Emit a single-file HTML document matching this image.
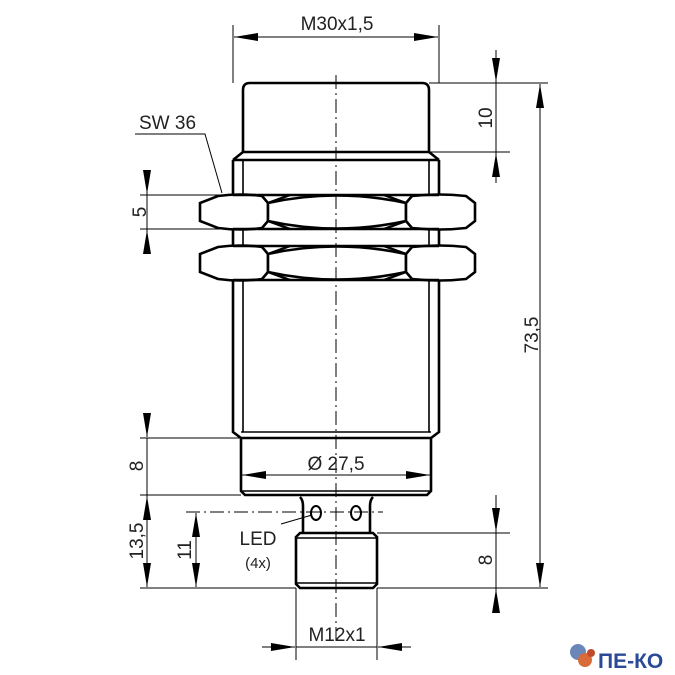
<!DOCTYPE html>
<html><head><meta charset="utf-8"><style>
html,body{margin:0;padding:0;background:#fff}
svg{display:block}
text{font-family:"Liberation Sans",sans-serif;fill:#222}
</style></head><body>
<svg width="675" height="675" viewBox="0 0 675 675" xmlns="http://www.w3.org/2000/svg">
<defs>
<marker id="b" viewBox="0 0 24 10" refX="24" refY="5" markerWidth="24" markerHeight="10" markerUnits="userSpaceOnUse" orient="auto-start-reverse"><path d="M0,1 L24,5 L0,9 Z" fill="#000"/></marker>
<g id="nut">
<path d="M268,203 L262,196 Q240,193 218,196 L200,203 L200,221 L218,228 Q240,231 262,228 L268,221 Z" fill="#fff" stroke="#000" stroke-width="2.6"/>
<path d="M268,203 Q336,188 406,203 L406,221 Q336,236 268,221 Z" fill="#fff" stroke="#000" stroke-width="2.6"/>
<path d="M406,203 L412,196 Q440,193 466,196 L475,203 L475,221 L466,228 Q440,231 412,228 L406,221 Z" fill="#fff" stroke="#000" stroke-width="2.6"/>
<path d="M268,203 L290,195 M406,203 L384,195 M268,221 L290,229 M406,221 L384,229" stroke="#000" stroke-width="2.4"/>
<path d="M233,195 L439,195 M233,229 L439,229" stroke="#000" stroke-width="2.6"/>
</g>
</defs>
<g stroke="#000" fill="none">
<path d="M243,152 L243,90 Q243,83 250,83 L422,83 Q429,83 429,90 L429,152" stroke-width="2.6"/>
<path d="M243,152 L429,152 M233,160 L439,160 M233,160 L243,152 M439,160 L429,152" stroke-width="2.6"/>
<path d="M233,160 L233,432 L241,438 L431,438 L439,432 L439,160" stroke-width="2.6"/>
<path d="M243,160 L243,432 M429,160 L429,432 M241,432 L431,432" stroke-width="1.6"/>
<path d="M241,438 L241,491 L245,495 L427,495 L431,491 L431,438" stroke-width="2.6"/>
<path d="M241,491 L431,491" stroke-width="1.4"/>
<path d="M300,497 Q303,500 303,506 L303,533 M373,497 Q370,500 370,506 L370,533" stroke-width="2.6"/>
<path d="M296,537 L300,533 L373,533 L377,537 L377,584 L373,588 L300,588 L296,584 Z" stroke-width="2.6"/>
<path d="M296,538 L377,538 M296,583 L377,583" stroke-width="1.6"/>
<ellipse cx="316" cy="513" rx="5" ry="7" stroke-width="2"/>
<ellipse cx="356" cy="513" rx="5" ry="7" stroke-width="2"/>
</g>
<use href="#nut"/>
<use href="#nut" transform="translate(0,51)"/>
<g stroke="#000" stroke-width="1" fill="none">
<path d="M336,75 L336,645" stroke-dasharray="14,4,2,4"/>
<path d="M186,512 L383,512" stroke-dasharray="14,4,2,4"/>
<path d="M233,25 L233,83 M439,25 L439,83"/>
<path d="M429,83 L548,83 M429,152 L510,152"/>
<path d="M140,195 L233,195 M140,229 L233,229"/>
<path d="M140,438 L241,438 M140,495 L241,495 M140,588 L296,588 M377,588 L548,588 M377,533 L510,533"/>
<path d="M296,588 L296,660 M377,588 L377,660"/>
<path d="M135,134 L205,134 L222,193"/>
<path d="M281,524 L312,515"/>
</g>
<g stroke="#000" stroke-width="1" fill="none">
<path d="M234,37 L438,37" marker-start="url(#b)" marker-end="url(#b)"/>
<path d="M242,475 L430,475" marker-start="url(#b)" marker-end="url(#b)"/>
<path d="M496,50 L496,82" marker-end="url(#b)"/><path d="M496,183 L496,153" marker-end="url(#b)"/><path d="M496,82 L496,153"/>
<path d="M540,84 L540,587" marker-start="url(#b)" marker-end="url(#b)"/>
<path d="M147,172 L147,194" marker-end="url(#b)"/><path d="M147,252 L147,230" marker-end="url(#b)"/><path d="M147,194 L147,230"/>
<path d="M147,415 L147,437" marker-end="url(#b)"/>
<path d="M147,438 L147,496"/>
<path d="M147,496 L147,587" marker-start="url(#b)" marker-end="url(#b)"/>
<path d="M196,513 L196,587" marker-start="url(#b)" marker-end="url(#b)"/>
<path d="M496,495 L496,532" marker-end="url(#b)"/><path d="M496,610 L496,589" marker-end="url(#b)"/><path d="M496,532 L496,589"/>
<path d="M262,647 L295,647" marker-end="url(#b)"/><path d="M411,647 L378,647" marker-end="url(#b)"/><path d="M296,647 L377,647"/>
</g>
<g font-size="19">
<text x="337" y="30" text-anchor="middle">M30x1,5</text>
<text x="336" y="470" text-anchor="middle">Ø 27,5</text>
<text x="337" y="641" text-anchor="middle">M12x1</text>
<text x="139" y="129">SW 36</text>
<text x="258" y="545" text-anchor="middle">LED</text>
<text x="258" y="568" text-anchor="middle" font-size="15">(4x)</text>
<text transform="translate(492,118) rotate(-90)" text-anchor="middle">10</text>
<text transform="translate(538,335) rotate(-90)" text-anchor="middle">73,5</text>
<text transform="translate(146,212) rotate(-90)" text-anchor="middle">5</text>
<text transform="translate(143,466) rotate(-90)" text-anchor="middle">8</text>
<text transform="translate(143,541) rotate(-90)" text-anchor="middle">13,5</text>
<text transform="translate(191,550) rotate(-90)" text-anchor="middle">11</text>
<text transform="translate(492,560) rotate(-90)" text-anchor="middle">8</text>
</g>
<g>
<circle cx="578" cy="652" r="8" fill="#6b86b8"/>
<circle cx="585" cy="660" r="7" fill="#d96a3a"/>
<circle cx="591" cy="653" r="4" fill="#c04a2a"/>
<text x="598" y="668" font-family="Liberation Serif,serif" font-size="21" font-weight="bold" style="fill:#2a4a98">ПЕ-КО</text>
</g>
</svg>
</body></html>
